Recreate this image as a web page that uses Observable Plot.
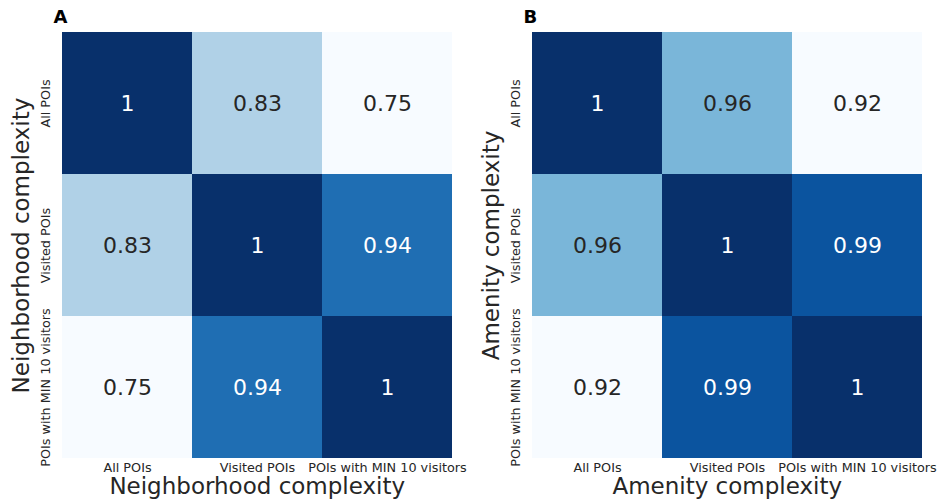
<!DOCTYPE html>
<html>
<head>
<meta charset="utf-8">
<script src="https://cdn.jsdelivr.net/npm/d3@7"></script>
<script src="https://cdn.jsdelivr.net/npm/@observablehq/plot@0.6"></script>
<style>
  html, body { margin: 0; padding: 0; background: white; }
  #wrap { display: flex; width: 938px; height: 504px; font-family: "DejaVu Sans", sans-serif; }
</style>
</head>
<body>
<div id="wrap"></div>
<script>
// ---- data ----
const categories = ["All POIs", "Visited POIs", "POIs with MIN 10 visitors"];
const neighborhoodValues = [
  [1, 0.83, 0.75],
  [0.83, 1, 0.94],
  [0.75, 0.94, 1]
];
const amenityValues = [
  [1, 0.957, 0.92],
  [0.957, 1, 0.989],
  [0.92, 0.989, 1]
];
const panelLetters = ["A", "B"];
const panelTitles = ["Neighborhood complexity", "Amenity complexity"];

// matplotlib "Blues" colormap stops
const blues9 = ["#f7fbff", "#deebf7", "#c6dbef", "#9ecae1", "#6baed6", "#4292c6", "#2171b5", "#08519c", "#08306b"];
const bluesInterp = d3.piecewise(d3.interpolateRgb, blues9);
const fmt = d3.format(".2");

function panel(matrix, letter, title, width) {
  const rows = [];
  matrix.forEach((r, i) => r.forEach((v, j) => rows.push({row: categories[i], col: categories[j], value: v})));
  const [lo, hi] = d3.extent(rows, d => d.value);
  const norm = v => (v - lo) / (hi - lo);
  return Plot.plot({
    width,
    height: 504,
    marginLeft: 61,
    marginRight: width - 61 - 391.5,
    marginTop: 31,
    marginBottom: 45,
    style: {fontFamily: "DejaVu Sans", background: "white", color: "#262626"},
    x: {domain: categories, padding: 0, axis: null},
    y: {domain: categories, padding: 0, axis: null},
    color: {type: "linear", domain: [lo, hi], interpolate: bluesInterp},
    marks: [
      Plot.cell(rows, {x: "col", y: "row", fill: "value", inset: 0}),
      Plot.text(rows, {
        x: "col", y: "row", text: d => fmt(d.value),
        fill: d => norm(d.value) > 0.6 ? "white" : "#262626",
        fontSize: 22
      }),
      Plot.axisX({tickSize: 0, tickPadding: 3.5, fontSize: 12.8, label: null}),
      Plot.text(categories, {y: d => d, frameAnchor: "left", textAnchor: "middle", lineAnchor: "middle", dx: -15.8, rotate: -90, fontSize: 12.8, fill: "#262626"}),
      Plot.text([title], {frameAnchor: "bottom", textAnchor: "middle", lineAnchor: "middle", dy: 27.6, fontSize: 23, fill: "#262626"}),
      Plot.text([title], {frameAnchor: "left", textAnchor: "middle", lineAnchor: "middle", dx: -39.6, rotate: -90, fontSize: 23, fill: "#262626"}),
      Plot.text([letter], {frameAnchor: "top-left", textAnchor: "start", lineAnchor: "middle", dx: -8, dy: -14, fontSize: 18, fontWeight: "bold", fill: "black"})
    ]
  });
}

const wrap = document.getElementById("wrap");
wrap.appendChild(panel(neighborhoodValues, panelLetters[0], panelTitles[0], 470));
wrap.appendChild(panel(amenityValues, panelLetters[1], panelTitles[1], 468));
</script>
</body>
</html>
